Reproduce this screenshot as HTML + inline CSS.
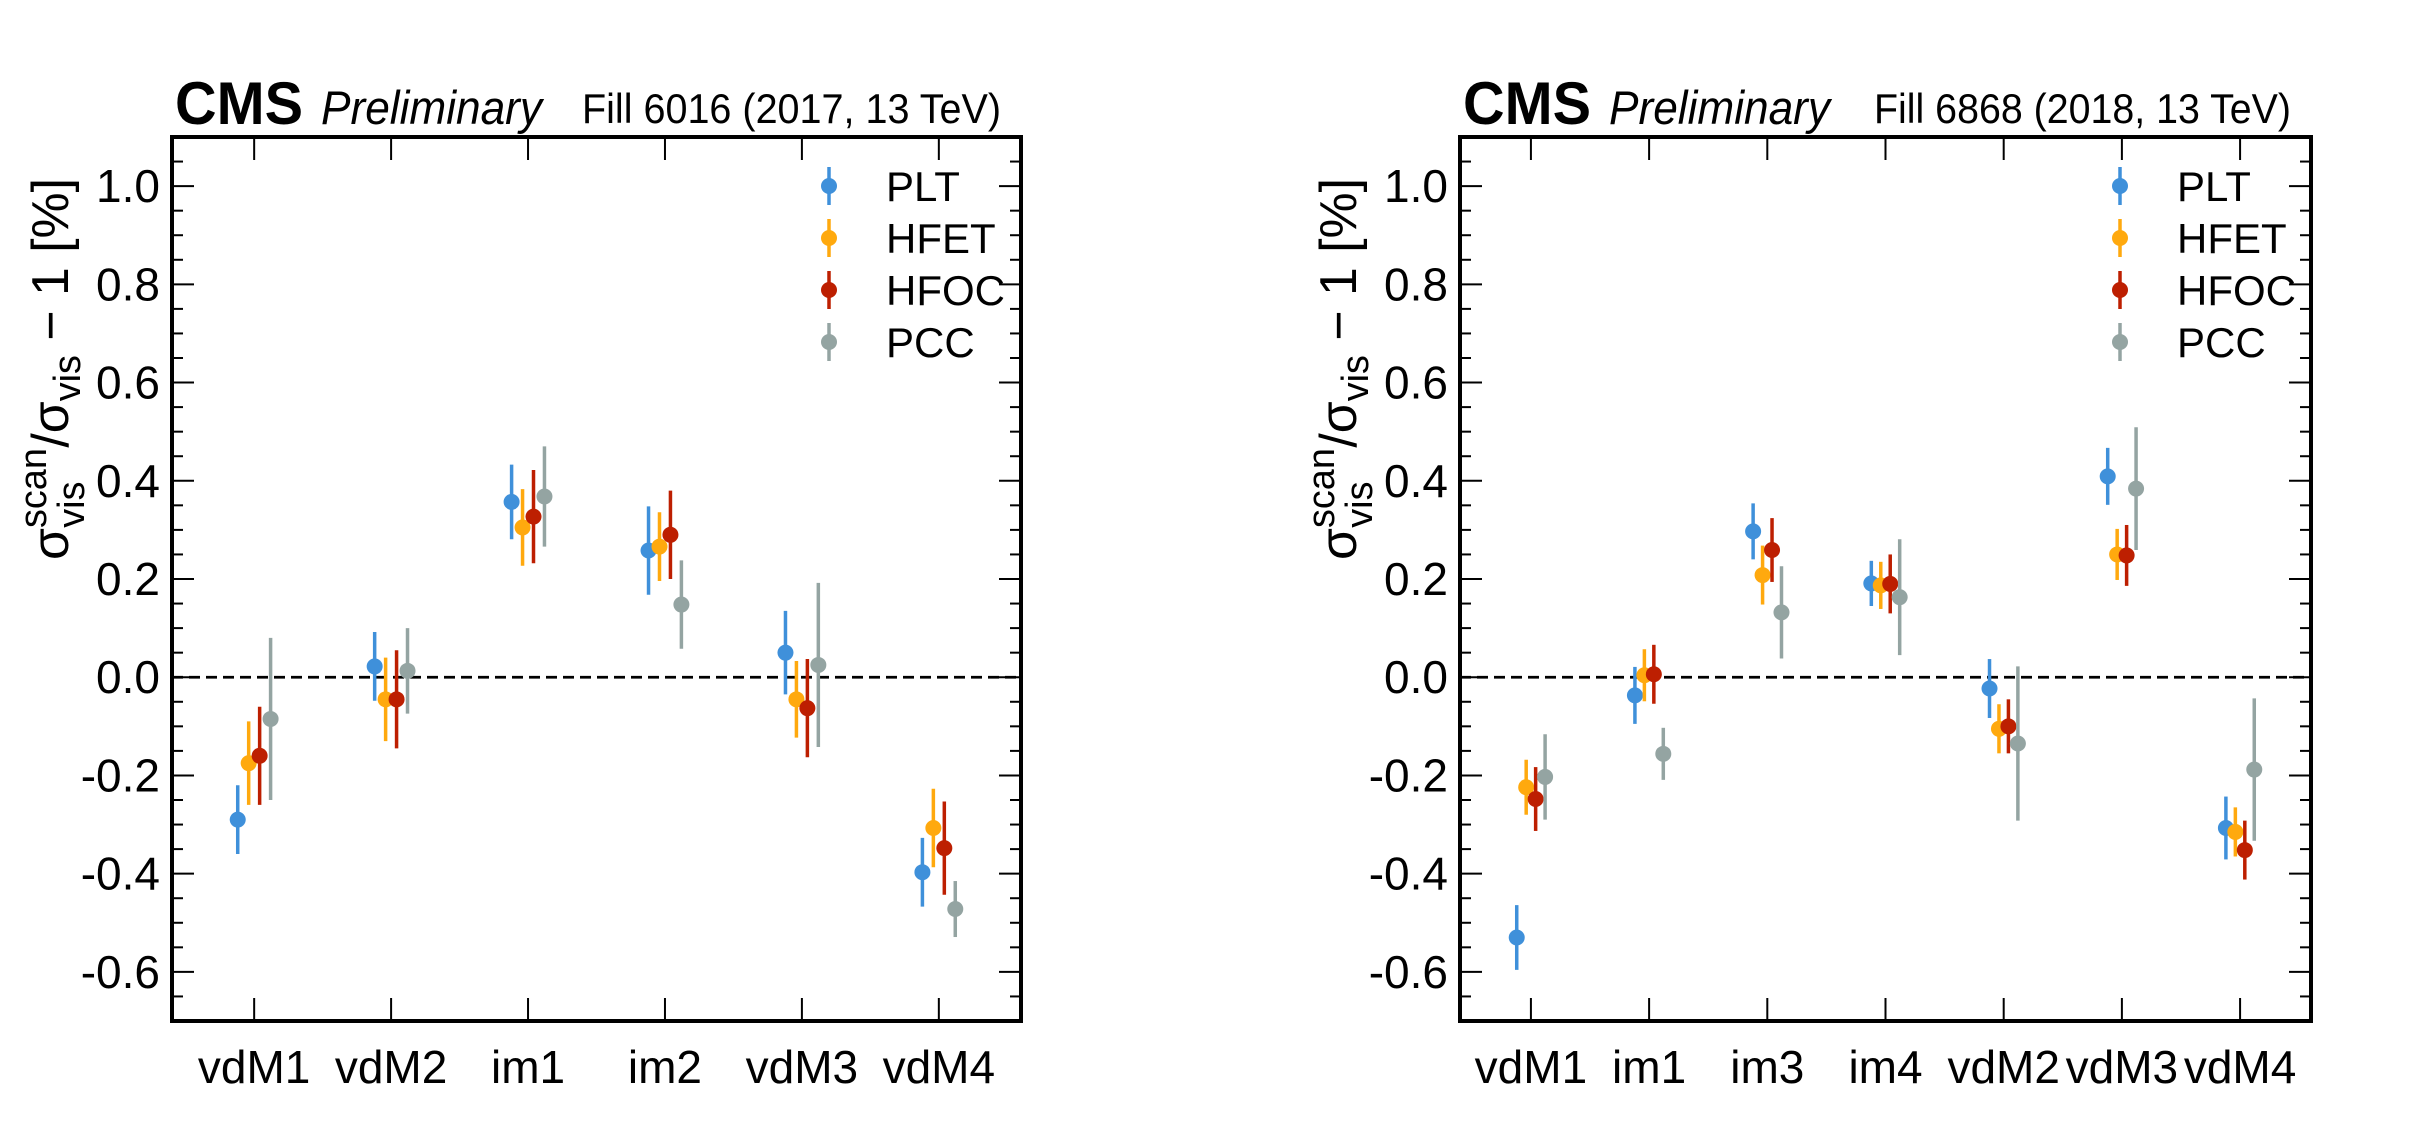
<!DOCTYPE html>
<html><head><meta charset="utf-8"><style>
html,body{margin:0;padding:0;background:#fff;}
svg{display:block;font-family:"Liberation Sans",Arial,sans-serif;}
</style></head><body>
<svg id="fig" width="2425" height="1134" viewBox="0 0 2425 1134" xmlns="http://www.w3.org/2000/svg">
<rect width="2425" height="1134" fill="#fff"/>
</svg>
<script>
const seriesNames = ["PLT","HFET","HFOC","PCC"];
const seriesColors = ["#3f90da","#ffa90e","#bd1f01","#94a4a2"];
const yTicks = [-0.6,-0.4,-0.2,0.0,0.2,0.4,0.6,0.8,1.0];
const yTickLabels = ["-0.6","-0.4","-0.2","0.0","0.2","0.4","0.6","0.8","1.0"];

const leftCategories = ["vdM1","vdM2","im1","im2","vdM3","vdM4"];
const leftPLT  = [-0.29, 0.022, 0.357, 0.258, 0.05, -0.397];
const leftPLTe = [0.07, 0.07, 0.076, 0.09, 0.085, 0.07];
const leftHFET  = [-0.175, -0.045, 0.305, 0.266, -0.045, -0.307];
const leftHFETe = [0.085, 0.085, 0.078, 0.07, 0.078, 0.08];
const leftHFOC  = [-0.16, -0.045, 0.327, 0.29, -0.063, -0.348];
const leftHFOCe = [0.10, 0.10, 0.095, 0.09, 0.10, 0.095];
const leftPCC  = [-0.085, 0.013, 0.368, 0.148, 0.025, -0.472];
const leftPCCe = [0.165, 0.087, 0.102, 0.09, 0.167, 0.057];

const rightCategories = ["vdM1","im1","im3","im4","vdM2","vdM3","vdM4"];
const rightPLT  = [-0.53, -0.037, 0.297, 0.191, -0.023, 0.409, -0.307];
const rightPLTe = [0.066, 0.058, 0.057, 0.046, 0.06, 0.058, 0.064];
const rightHFET  = [-0.224, 0.004, 0.208, 0.187, -0.105, 0.25, -0.315];
const rightHFETe = [0.056, 0.053, 0.06, 0.048, 0.05, 0.052, 0.05];
const rightHFOC  = [-0.248, 0.006, 0.259, 0.19, -0.1, 0.248, -0.352];
const rightHFOCe = [0.065, 0.06, 0.065, 0.06, 0.055, 0.062, 0.06];
const rightPCC  = [-0.203, -0.156, 0.132, 0.163, -0.135, 0.384, -0.188];
const rightPCCe = [0.087, 0.053, 0.094, 0.118, 0.157, 0.125, 0.145];

const NS="http://www.w3.org/2000/svg";
const svg=document.getElementById('fig');
function mk(tag,attrs,parent){const e=document.createElementNS(NS,tag);for(const k in attrs)e.setAttribute(k,attrs[k]);(parent||svg).appendChild(e);return e;}

function panel(opt){
  const g=mk('g',{});
  
  
  const L=opt.x0,R=opt.x1,T=137,B=1021;
  const ymin=-0.7,ymax=1.1;
  const n=opt.cats.length;
  const xmin=-0.6,xmax=n-0.4;
  const X=v=>L+(v-xmin)/(xmax-xmin)*(R-L);
  const Y=v=>B-(v-ymin)/(ymax-ymin)*(B-T);
  const z=mk('line',{x1:L,x2:R,y1:Y(0),y2:Y(0),stroke:'#000','stroke-width':2.8,'stroke-dasharray':'11,6'},g);
  
  
  for(let k=-14;k<=22;k++){
    const v=k*0.05; const y=Y(v);
    const major=yTicks.some(t=>Math.abs(t-v)<1e-6);
    const len=major?22:11;
    mk('line',{x1:L,x2:L+len,y1:y,y2:y,stroke:'#000','stroke-width':2},g);
    mk('line',{x1:R,x2:R-len,y1:y,y2:y,stroke:'#000','stroke-width':2},g);
  }
  yTicks.forEach((t,i)=>{
    const tx=mk('text',{x:L-12,y:Y(t)+16,'font-size':46,'text-anchor':'end',fill:'#000'},g);
    tx.textContent=yTickLabels[i];
    
    
  });
  opt.cats.forEach((c,i)=>{
    const x=X(i);
    mk('line',{x1:x,x2:x,y1:B,y2:B-23,stroke:'#000','stroke-width':2},g);
    mk('line',{x1:x,x2:x,y1:T,y2:T+23,stroke:'#000','stroke-width':2},g);
    const tx=mk('text',{x:x,y:1083,'font-size':46,'text-anchor':'middle',fill:'#000'},g);
    tx.textContent=c;
    
    
  });
  const offs=[-0.12,-0.04,0.04,0.12];
  opt.vals.forEach((arr,s)=>{
    const errs=opt.errs[s];
    arr.forEach((v,i)=>{
      const x=X(i+offs[s]);
      const l=mk('line',{x1:x,x2:x,y1:Y(v-errs[i]),y2:Y(v+errs[i]),stroke:seriesColors[s],'stroke-width':3.5},g);
      
      
      const c=mk('circle',{cx:x,cy:Y(v),r:8,fill:seriesColors[s]},g);
      
      
    });
  });
  seriesNames.forEach((nm,s)=>{
    const y=186+52*s;
    const lg=mk('g',{},g);
    
    
    mk('line',{x1:opt.legX,x2:opt.legX,y1:y-19,y2:y+19,stroke:seriesColors[s],'stroke-width':3.5},lg);
    mk('circle',{cx:opt.legX,cy:y,r:8,fill:seriesColors[s]},lg);
    const t=mk('text',{x:opt.legX+57,y:y+15,'font-size':42,fill:'#000'},lg);
    t.textContent=nm;
  });
  const fr=mk('rect',{x:L,y:T,width:R-L,height:B-T,fill:'none',stroke:'#000','stroke-width':4},g);
  
  
  const cms=mk('text',{x:L+3,y:124,'font-size':60,'font-weight':'bold',fill:'#000','textLength':128,'lengthAdjust':'spacingAndGlyphs'},g);
  cms.textContent='CMS';
  
  
  const pre=mk('text',{x:L+149,y:124,'font-size':47,'font-style':'italic',fill:'#000','textLength':221,'lengthAdjust':'spacingAndGlyphs'},g);
  pre.textContent='Preliminary';
  
  
  const fl=mk('text',{x:opt.fillX,y:123,'font-size':42,fill:'#000','textLength':opt.fillW,'lengthAdjust':'spacingAndGlyphs'},g);
  fl.textContent=opt.fill;
  
  
  const yl=mk('text',{transform:`translate(${opt.ylX},369) rotate(-90)`,'font-size':52,'text-anchor':'middle',fill:'#000','textLength':382,'lengthAdjust':'spacingAndGlyphs'},g);
  
  
  yl.innerHTML='σ<tspan font-size="38" dy="-22">scan</tspan><tspan font-size="38" dx="-80" dy="38">vis</tspan><tspan dx="34" dy="-16">/σ</tspan><tspan font-size="38" dy="12">vis</tspan><tspan dy="-12"> − 1 [%]</tspan>';
}
panel({name:'panel-fill-6016',x0:172,x1:1021,cats:leftCategories,
  vals:[leftPLT,leftHFET,leftHFOC,leftPCC],errs:[leftPLTe,leftHFETe,leftHFOCe,leftPCCe],
  legX:829,fill:'Fill 6016 (2017, 13 TeV)',fillX:582,fillW:419,ylX:68});
panel({name:'panel-fill-6868',x0:1460,x1:2311,cats:rightCategories,
  vals:[rightPLT,rightHFET,rightHFOC,rightPCC],errs:[rightPLTe,rightHFETe,rightHFOCe,rightPCCe],
  legX:2120,fill:'Fill 6868 (2018, 13 TeV)',fillX:1874,fillW:417,ylX:1356});
</script>
</body></html>
